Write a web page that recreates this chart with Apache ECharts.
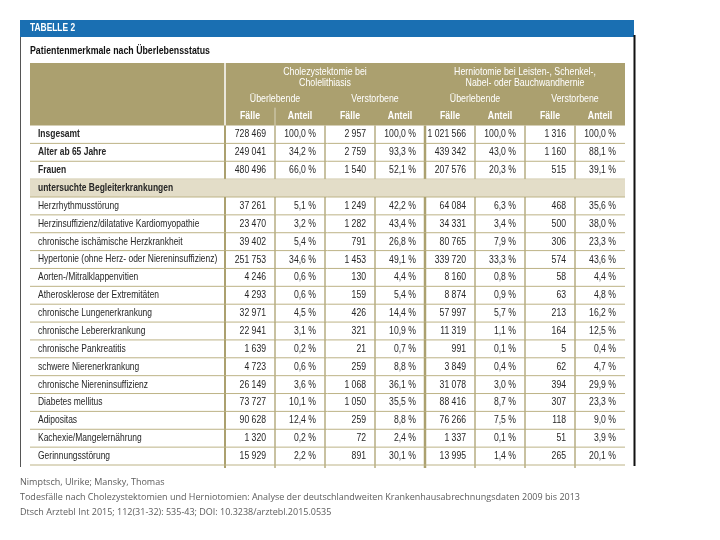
<!DOCTYPE html>
<html><head><meta charset="utf-8">
<script src="https://cdn.jsdelivr.net/npm/echarts@6/dist/echarts.min.js"></script>
<style>html,body{margin:0;padding:0;background:#fff}#c{width:720px;height:540px}</style>
</head><body><div id="c"></div>
<script>
// ---------- data ----------
const tableTitle = "TABELLE 2";
const tableSubtitle = "Patientenmerkmale nach Überlebensstatus";
const groupTitles = ["Cholezystektomie bei\nCholelithiasis", "Herniotomie bei Leisten-, Schenkel-,\nNabel- oder Bauchwandhernie"];
const statusLabels = ["Überlebende", "Verstorbene", "Überlebende", "Verstorbene"];
const measureLabels = ["Fälle", "Anteil", "Fälle", "Anteil", "Fälle", "Anteil", "Fälle", "Anteil"];
const rowLabels = [
  "Insgesamt", "Alter ab 65 Jahre", "Frauen", "untersuchte Begleiterkrankungen",
  "Herzrhythmusstörung", "Herzinsuffizienz/dilatative Kardiomyopathie",
  "chronische ischämische Herzkrankheit", "Hypertonie (ohne Herz- oder Niereninsuffizienz)",
  "Aorten-/Mitralklappenvitien", "Atherosklerose der Extremitäten",
  "chronische Lungenerkrankung", "chronische Lebererkrankung", "chronische Pankreatitis",
  "schwere Nierenerkrankung", "chronische Niereninsuffizienz", "Diabetes mellitus",
  "Adipositas", "Kachexie/Mangelernährung", "Gerinnungsstörung"
];
const boldRows = ["Insgesamt", "Alter ab 65 Jahre", "Frauen", "untersuchte Begleiterkrankungen"];
const sectionRows = ["untersuchte Begleiterkrankungen"];
const choleSurvCases  = [728469, 249041, 480496, null, 37261, 23470, 39402, 251753, 4246, 4293, 32971, 22941, 1639, 4723, 26149, 73727, 90628, 1320, 15929];
const choleSurvShare  = [100.0, 34.2, 66.0, null, 5.1, 3.2, 5.4, 34.6, 0.6, 0.6, 4.5, 3.1, 0.2, 0.6, 3.6, 10.1, 12.4, 0.2, 2.2];
const choleDeadCases  = [2957, 2759, 1540, null, 1249, 1282, 791, 1453, 130, 159, 426, 321, 21, 259, 1068, 1050, 259, 72, 891];
const choleDeadShare  = [100.0, 93.3, 52.1, null, 42.2, 43.4, 26.8, 49.1, 4.4, 5.4, 14.4, 10.9, 0.7, 8.8, 36.1, 35.5, 8.8, 2.4, 30.1];
const herniaSurvCases = [1021566, 439342, 207576, null, 64084, 34331, 80765, 339720, 8160, 8874, 57997, 11319, 991, 3849, 31078, 88416, 76266, 1337, 13995];
const herniaSurvShare = [100.0, 43.0, 20.3, null, 6.3, 3.4, 7.9, 33.3, 0.8, 0.9, 5.7, 1.1, 0.1, 0.4, 3.0, 8.7, 7.5, 0.1, 1.4];
const herniaDeadCases = [1316, 1160, 515, null, 468, 500, 306, 574, 58, 63, 213, 164, 5, 62, 394, 307, 118, 51, 265];
const herniaDeadShare = [100.0, 88.1, 39.1, null, 35.6, 38.0, 23.3, 43.6, 4.4, 4.8, 16.2, 12.5, 0.4, 4.7, 29.9, 23.3, 9.0, 3.9, 20.1];
const footerLines = [
  "Nimptsch, Ulrike; Mansky, Thomas",
  "Todesfälle nach Cholezystektomien und Herniotomien: Analyse der deutschlandweiten Krankenhausabrechnungsdaten 2009 bis 2013",
  "Dtsch Arztebl Int 2015; 112(31-32): 535-43; DOI: 10.3238/arztebl.2015.0535"
];

// ---------- styling ----------
const valueColumns = [choleSurvCases, choleSurvShare, choleDeadCases, choleDeadShare,
                      herniaSurvCases, herniaSurvShare, herniaDeadCases, herniaDeadShare];
const FONT = '"Liberation Sans", Arial, sans-serif';
const FOOT_FONT = '"Open Sans", sans-serif';
const SX = 0.8;
const OLIVE = '#aba06f';
const BEIGE = '#e3ddc8';
const HLINE = '#bdb386';
const TEXT = '#262626';
const X_MIN = -3.9;

function fmtCount(n) { return String(n).replace(/\B(?=(\d{3})+(?!\d))/g, ' '); }
function fmtShare(v) { return v.toFixed(1).replace('.', ',') + ' %'; }
function txt(x, y, text, align, opts) {
  return { type: 'text', x: x, y: y, scaleX: SX, scaleY: 1,
    style: Object.assign({ text: text, x: 0, y: 0, align: align, verticalAlign: 'middle',
      fontFamily: FONT, fontSize: 11, fill: TEXT }, opts || {}) };
}

function renderHeader(params, api) {
  const tl = api.coord([X_MIN, -3.5]), br = api.coord([8, 0]);
  const ch = [];
  ch.push({ type: 'rect', shape: { x: tl[0], y: tl[1], width: br[0] - tl[0], height: br[1] - tl[1] }, style: { fill: OLIVE } });
  const sx = api.coord([0, 0])[0];
  ch.push({ type: 'line', shape: { x1: sx, y1: tl[1], x2: sx, y2: br[1] }, style: { stroke: '#ffffff', lineWidth: 1.5 } });
  const mx = api.coord([1, 0])[0], my = api.coord([0, -1])[1];
  ch.push({ type: 'line', shape: { x1: mx, y1: my, x2: mx, y2: br[1] }, style: { stroke: 'rgba(255,255,255,0.55)', lineWidth: 1 } });
  groupTitles.forEach(function (t, g) {
    const p = api.coord([g * 4 + 2, -2.68]);
    ch.push(txt(p[0], p[1], t, 'center', { fill: '#ffffff', lineHeight: 10.5 }));
  });
  statusLabels.forEach(function (t, s) {
    const p = api.coord([s * 2 + 1, -1.47]);
    ch.push(txt(p[0], p[1], t, 'center', { fill: '#ffffff' }));
  });
  measureLabels.forEach(function (t, m) {
    const p = api.coord([m + 0.5, -0.55]);
    ch.push(txt(p[0], p[1], t, 'center', { fill: '#ffffff', fontWeight: 'bold' }));
  });
  return { type: 'group', children: ch };
}

function renderRow(params, api) {
  const r = api.value(1);
  const y0 = api.coord([0, r])[1], y1 = api.coord([0, r + 1])[1];
  const xL = api.coord([X_MIN, 0])[0], xR = api.coord([8, 0])[0];
  const cy = (y0 + y1) / 2;
  const label = rowLabels[r];
  const isSection = sectionRows.indexOf(label) >= 0;
  const last = r === rowLabels.length - 1;
  const ch = [];
  if (isSection) {
    ch.push({ type: 'rect', shape: { x: xL, y: y0, width: xR - xL, height: y1 - y0 }, style: { fill: BEIGE } });
  } else {
    for (let v = 0; v < 8; v++) {
      const x = api.coord([v, 0])[0];
      ch.push({ type: 'line', shape: { x1: x, y1: y0, x2: x, y2: y1 + (last ? 3 : 0) },
        style: { stroke: OLIVE, lineWidth: v === 0 ? 2 : (v === 4 ? 2.5 : 1.3) } });
    }
  }
  ch.push({ type: 'line', shape: { x1: xL, y1: y1, x2: xR, y2: y1 }, style: { stroke: HLINE, lineWidth: 1 } });
  ch.push(txt(xL + 8, cy, label, 'left', { fontSize: 10.6, fontWeight: boldRows.indexOf(label) >= 0 ? 'bold' : 'normal' }));
  if (!isSection) {
    valueColumns.forEach(function (col, k) {
      const v = col[r];
      if (v === null || v === undefined) return;
      const s = k % 2 === 0 ? fmtCount(v) : fmtShare(v);
      const x = api.coord([k + 1, 0])[0] - 9;
      ch.push(txt(x, cy, s, 'right', { fontSize: 10.8 }));
    });
  }
  return { type: 'group', children: ch };
}

function footText(y, t) {
  return { type: 'text', x: 20, y: y, style: { text: t, x: 0, y: 0, align: 'left', verticalAlign: 'middle', fontFamily: FOOT_FONT, fontSize: 9, fill: '#5c5c5c' } };
}

const chart = echarts.init(document.getElementById('c'), null, { renderer: 'canvas' });
chart.setOption({
  animation: false,
  backgroundColor: '#ffffff',
  grid: { left: 30, right: 95, top: 63, bottom: 75, containLabel: false },
  xAxis: { type: 'value', min: X_MIN, max: 8, show: false },
  yAxis: { type: 'value', min: -3.5, max: 19, inverse: true, show: false },
  graphic: [
    { type: 'rect', shape: { x: 20, y: 20, width: 614, height: 17 }, style: { fill: '#1a6fb2' } },
    { type: 'text', x: 30, y: 28.5, scaleX: SX, style: { text: tableTitle, x: 0, y: 0, align: 'left', verticalAlign: 'middle', fontFamily: FONT, fontWeight: 'bold', fontSize: 10.5, fill: '#ffffff' } },
    { type: 'line', shape: { x1: 20.5, y1: 37, x2: 20.5, y2: 467 }, style: { stroke: '#555555', lineWidth: 1 } },
    { type: 'line', shape: { x1: 634.5, y1: 35, x2: 634.5, y2: 466 }, style: { stroke: '#111111', lineWidth: 2 } },
    { type: 'text', x: 30, y: 51, scaleX: SX, style: { text: tableSubtitle, x: 0, y: 0, align: 'left', verticalAlign: 'middle', fontFamily: FONT, fontWeight: 'bold', fontSize: 11, fill: '#111111' } },
    footText(482, footerLines[0]),
    footText(497, footerLines[1]),
    footText(512, footerLines[2])
  ],
  series: [
    { type: 'custom', name: 'header', renderItem: renderHeader, data: [[0, 0]], silent: true, z: 1 },
    { type: 'custom', name: 'rows', renderItem: renderRow, data: rowLabels.map(function (_, r) { return [0, r]; }), silent: true, z: 2 }
  ]
});
</script>
</body></html>
